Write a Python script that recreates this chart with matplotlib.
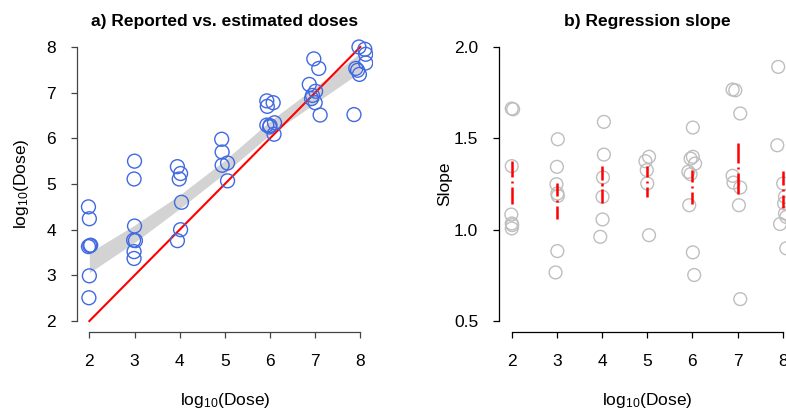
import numpy as np
import matplotlib
matplotlib.use("Agg")
import matplotlib.pyplot as plt

plt.rcParams['font.family'] = ['Liberation Sans', 'DejaVu Sans']
plt.rcParams['mathtext.fontset'] = 'custom'
plt.rcParams['mathtext.rm'] = 'Liberation Sans'
plt.rcParams['mathtext.default'] = 'regular'

# a) reported vs estimated doses (log10)
dose_x = [1.98, 2.00, 2.03, 1.98, 2.01, 2.00, 1.99,
          3.00, 2.99, 3.00, 2.98, 3.02, 2.99, 2.99,
          3.95, 4.02, 3.99, 4.04, 4.02, 3.95,
          4.93, 4.94, 4.94, 5.06, 5.06,
          5.93, 5.94, 6.07, 5.93, 5.99, 6.10, 6.00, 6.09,
          6.97, 7.08, 6.87, 7.01, 6.94, 6.92, 7.00, 7.11,
          7.97, 8.10, 8.12, 8.12, 7.90, 7.94, 7.98, 7.86]
dose_y = [4.50, 4.24, 3.66, 3.63, 3.65, 2.99, 2.51,
          5.50, 5.11, 4.08, 3.77, 3.76, 3.52, 3.37,
          5.38, 5.23, 5.11, 4.60, 4.00, 3.76,
          5.98, 5.70, 5.41, 5.46, 5.07,
          6.82, 6.70, 6.78, 6.29, 6.25, 6.34, 6.28, 6.09,
          7.74, 7.53, 7.18, 7.03, 6.94, 6.87, 6.78, 6.51,
          8.00, 7.95, 7.84, 7.65, 7.53, 7.49, 7.40, 6.52]

# confidence band of the fit
band_x = [2, 3, 4, 5, 6, 7, 8]
band_lo = [3.06, 3.72, 4.46, 5.24, 6.08, 6.77, 7.45]
band_hi = [3.50, 4.10, 4.76, 5.52, 6.38, 7.12, 7.87]

ref_x = [2, 8]

# b) regression slopes
slope_x = [2.00, 2.03, 2.00, 1.99, 2.00, 2.01, 2.00,
           3.02, 3.00, 2.99, 3.01, 3.02, 3.01, 2.97,
           4.04, 4.04, 4.02, 4.01, 4.01, 3.96,
           5.04, 4.96, 4.99, 5.00, 5.04,
           6.01, 6.01, 5.96, 6.06, 5.91, 5.96, 5.93, 6.01, 6.04,
           6.89, 6.95, 7.06, 6.89, 6.91, 7.06, 7.03, 7.06,
           7.90, 7.88, 8.01, 8.03, 8.05, 7.94, 8.05, 8.08, 8.08]
slope_y = [1.663, 1.659, 1.348, 1.083, 1.034, 1.025, 1.007,
           1.495, 1.344, 1.249, 1.198, 1.185, 0.883, 0.766,
           1.590, 1.411, 1.286, 1.180, 1.056, 0.961,
           1.399, 1.375, 1.326, 1.253, 0.970,
           1.559, 1.399, 1.389, 1.362, 1.317, 1.304, 1.134, 0.876, 0.752,
           1.767, 1.763, 1.636, 1.295, 1.258, 1.231, 1.134, 0.620,
           1.891, 1.462, 1.253, 1.144, 1.180, 1.031, 1.089, 1.070, 0.898]

ci_x = [2, 3, 4, 5, 6, 7, 8]
ci_mean = [1.262, 1.158, 1.247, 1.262, 1.235, 1.338, 1.217]
ci_lo = [1.143, 1.056, 1.147, 1.180, 1.143, 1.198, 1.116]
ci_hi = [1.375, 1.256, 1.348, 1.348, 1.326, 1.475, 1.320]

fig = plt.figure(figsize=(7.86, 4.13), dpi=100)
ax1 = fig.add_axes([0.0976, 0.1961, 0.3769, 0.7167])
ax2 = fig.add_axes([0.635, 0.1961, 0.3769, 0.7167])

xlab = r'log$_{10}$(Dose)'

# panel a
ax1.fill_between(band_x, band_lo, band_hi, color='#d3d3d3', lw=0, zorder=1)
ax1.plot(ref_x, ref_x, color='red', lw=1.5, zorder=2)
ax1.scatter(dose_x, dose_y, s=100, facecolors='none', edgecolors='#4169e1',
            linewidths=1.0, zorder=3)
ax1.set_xlim(1.72, 8.28)
ax1.set_ylim(1.76, 8.24)
ax1.set_xticks(range(2, 9))
ax1.set_yticks(range(2, 9))
ax1.set_title('a) Reported vs. estimated doses', fontsize=12.5, fontweight='bold', pad=7)
ax1.set_xlabel(xlab, fontsize=12.5)
ax1.set_ylabel(xlab, fontsize=12.5)

# panel b
ax2.scatter(slope_x, slope_y, s=85, facecolors='none', edgecolors='#bebebe',
            linewidths=1.0, zorder=2)
g, d = 0.026, 0.006
for xi, m, lo, hi in zip(ci_x, ci_mean, ci_lo, ci_hi):
    ax2.plot([xi, xi], [hi, m + g], color='red', lw=1.8, solid_capstyle='butt', zorder=3)
    ax2.plot([xi, xi], [m + d, m - d], color='red', lw=1.8, solid_capstyle='butt', zorder=3)
    ax2.plot([xi, xi], [m - g, lo], color='red', lw=1.8, solid_capstyle='butt', zorder=3)
ax2.set_xlim(1.72, 8.28)
ax2.set_ylim(0.44, 2.06)
ax2.set_xticks(range(2, 9))
ax2.set_yticks([0.5, 1.0, 1.5, 2.0])
ax2.set_yticklabels(['0.5', '1.0', '1.5', '2.0'])
ax2.set_title('b) Regression slope', fontsize=12.5, fontweight='bold', pad=7)
ax2.set_xlabel(xlab, fontsize=12.5)
ax2.set_ylabel('Slope', fontsize=12.5)

for ax, ylo, yhi, col in [(ax1, 2, 8, '#444444'), (ax2, 0.5, 2.0, 'black')]:
    ax.spines['top'].set_visible(False)
    ax.spines['right'].set_visible(False)
    ax.spines['left'].set_bounds(ylo, yhi)
    ax.spines['bottom'].set_bounds(2, 8)
    for s in ['left', 'bottom']:
        ax.spines[s].set_color(col)
        ax.spines[s].set_linewidth(0.9)
    ax.tick_params(axis='both', direction='out', length=4, width=0.9, color=col,
                   labelsize=12.5)
    ax.tick_params(axis='x', pad=12)
    ax.tick_params(axis='y', pad=11)
    ax.xaxis.set_label_coords(0.5, -0.233)
    ax.xaxis.label.set_va('center')
    ax.yaxis.label.set_va('center')

ax1.yaxis.set_label_coords(-0.186, 0.5)
ax2.yaxis.set_label_coords(-0.183, 0.5)

fig.savefig('out.png', dpi=100)
